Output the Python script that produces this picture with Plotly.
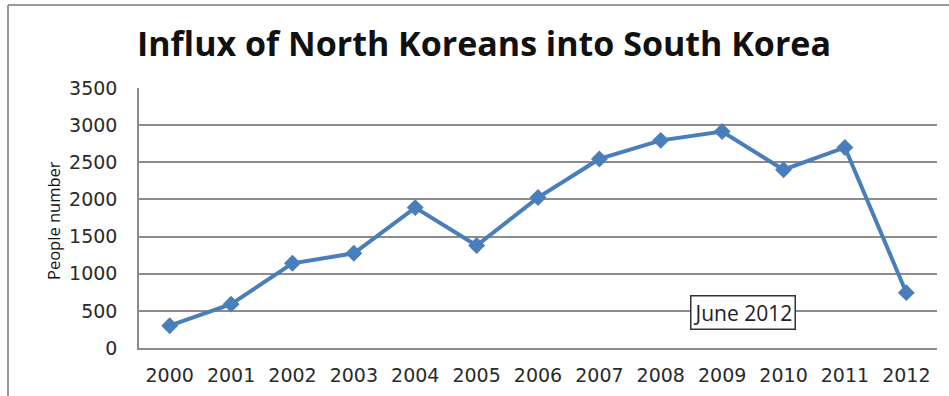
import plotly.graph_objects as go

years = ["2000", "2001", "2002", "2003", "2004", "2005", "2006",
         "2007", "2008", "2009", "2010", "2011", "2012"]
people = [300, 590, 1140, 1275, 1890, 1380, 2025, 2545, 2795, 2915, 2400, 2700, 745]
y_ticks = [0, 500, 1000, 1500, 2000, 2500, 3000, 3500]

title_text = "Influx of North Koreans into South Korea"
y_title = "People number"
note_text = "June 2012"

W, H = 949, 396
L, R, T, B = 139, 12, 88, 48
pw, ph = W - L - R, H - T - B

def px(x):
    return (x - L) / pw

def py(y):
    return (H - B - y) / ph

fig = go.Figure()
fig.add_trace(go.Scatter(
    x=years, y=people, mode="lines+markers",
    line=dict(color="#4a7ebb", width=4),
    marker=dict(symbol="diamond", size=13, color="#4a7ebb"),
    showlegend=False, cliponaxis=False,
))

fig.update_layout(
    width=W, height=H,
    margin=dict(l=L, r=R, t=T, b=B, autoexpand=False),
    paper_bgcolor="white", plot_bgcolor="white",
    title=dict(text=title_text, x=484 / W, xanchor="center", xref="container",
               y=1 - 44 / H, yanchor="middle", yref="container",
               font=dict(family="Open Sans", size=34, color="#111111", weight="bold")),
    xaxis=dict(type="category", range=[-0.5, 12.5], showgrid=False, automargin=False,
               showline=True, linecolor="#8c8c8c", linewidth=1.5,
               ticks="", ticklabelstandoff=9,
               tickfont=dict(family="DejaVu Sans", size=19, color="#2a2a2a")),
    yaxis=dict(range=[0, 3500], tickvals=y_ticks, showgrid=True, automargin=False,
               gridcolor="#8c8c8c", gridwidth=1.5,
               showline=True, linecolor="#8c8c8c", linewidth=1.5,
               ticks="", ticklabelstandoff=16, zeroline=False,
               tickfont=dict(family="DejaVu Sans", size=19, color="#2a2a2a")),
    annotations=[
        dict(text=y_title, textangle=-90, x=px(53), y=py(221), xref="paper", yref="paper",
             showarrow=False, xanchor="center", yanchor="middle",
             font=dict(family="Open Sans", size=16.5, color="#111111")),
        dict(text=note_text, x=px(743), y=py(312), xref="paper", yref="paper",
             showarrow=False, xanchor="center", yanchor="middle",
             bordercolor="#333333", borderwidth=1.5, borderpad=2, bgcolor="white",
             font=dict(family="Open Sans", size=21, color="#222222")),
    ],
    shapes=[
        dict(type="line", xref="paper", yref="paper", x0=px(8), x1=px(949), y0=py(5), y1=py(5),
             line=dict(color="#999999", width=2)),
        dict(type="line", xref="paper", yref="paper", x0=px(8), x1=px(8), y0=py(5), y1=py(396),
             line=dict(color="#999999", width=2)),
    ],
)

fig.write_html("out.html")
